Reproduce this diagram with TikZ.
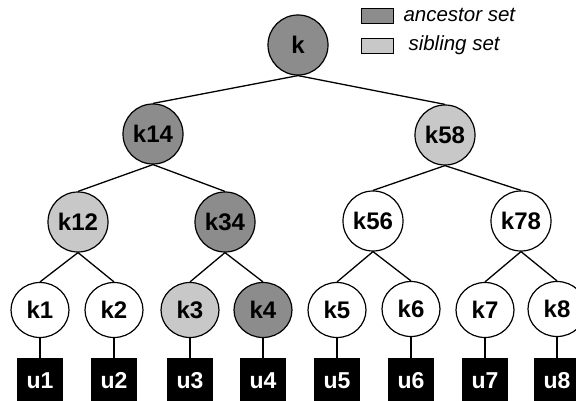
\documentclass[tikz,border=0pt]{standalone}
\usepackage{fontspec}
\setmainfont{Liberation Sans}
\usetikzlibrary{shapes.geometric}
\definecolor{ancestorgray}{RGB}{140,140,140}
\definecolor{siblinggray}{RGB}{200,200,200}
\tikzset{
  keynode/.style={circle, draw=black, line width=1.2pt, minimum size=60pt, inner sep=0pt,
    font=\fontsize{24}{24}\selectfont\bfseries},
  leafkey/.style={ellipse, draw=black, line width=1.2pt, minimum width=58pt, minimum height=55pt,
    inner sep=0pt, font=\fontsize{24}{24}\selectfont\bfseries},
  usernode/.style={rectangle, fill=black, minimum size=46pt, inner sep=0pt, text=white,
    font=\fontsize{23}{23}\selectfont\bfseries},
  ancestor/.style={fill=ancestorgray},
  sibling/.style={fill=siblinggray},
  edge/.style={line width=1.3pt},
  legendbox/.style={draw=black, line width=1pt, minimum width=32pt, minimum height=15pt, inner sep=0pt},
  legendtext/.style={anchor=west, font=\fontsize{20.5}{20.5}\selectfont\itshape}
}
\begin{document}
\begin{tikzpicture}[x=1pt, y=-1pt]
			%%%%% START %%%%%
			\useasboundingbox (0, 0) rectangle (576, 401);
			
			% legend
			\node[legendbox, ancestor] (legA) at (377, 16.5) {};
			\node[legendtext] (legAtext) at (400, 15) {ancestor set};
			\node[legendbox, sibling] (legS) at (377, 46) {};
			\node[legendtext] (legStext) at (405, 45) {sibling set};
			
			% key tree
			\node[keynode, ancestor] (k) at (298, 45) {k};
			
			\node[keynode, ancestor] (k14) at (153, 134) {k14};
			\node[keynode, sibling] (k58) at (445, 135) {k58};
			
			\node[keynode, sibling] (k12) at (78, 222) {k12};
			\node[keynode, ancestor] (k34) at (225, 222) {k34};
			\node[keynode] (k56) at (373, 221) {k56};
			\node[keynode] (k78) at (521, 221) {k78};
			
			\node[leafkey] (k1) at (40, 310) {k1};
			\node[leafkey] (k2) at (114, 310) {k2};
			\node[leafkey, sibling] (k3) at (190, 310) {k3};
			\node[leafkey, ancestor] (k4) at (263, 310) {k4};
			\node[leafkey] (k5) at (337, 310) {k5};
			\node[leafkey] (k6) at (411, 309) {k6};
			\node[leafkey] (k7) at (485, 310) {k7};
			\node[leafkey] (k8) at (557, 309) {k8};
			
			% users
			\foreach \i/\x in {1/40, 2/114, 3/190, 4/263, 5/337, 6/411, 7/485, 8/557}
			{
				\node[usernode] (u\i) at (\x, 381) {u\i};
				\draw[edge] (k\i.south) -- (u\i.north);
			}
			
			% edges
			\draw[edge] (k.south) -- (k14.north);
			\draw[edge] (k.south) -- (k58.north);
			\draw[edge] (k14.south) -- (k12.north);
			\draw[edge] (k14.south) -- (k34.north);
			\draw[edge] (k58.south) -- (k56.north);
			\draw[edge] (k58.south) -- (k78.north);
			\draw[edge] (k12.south) -- (k1.north);
			\draw[edge] (k12.south) -- (k2.north);
			\draw[edge] (k34.south) -- (k3.north);
			\draw[edge] (k34.south) -- (k4.north);
			\draw[edge] (k56.south) -- (k5.north);
			\draw[edge] (k56.south) -- (k6.north);
			\draw[edge] (k78.south) -- (k7.north);
			\draw[edge] (k78.south) -- (k8.north);
			
			%%%%% END %%%%%
\end{tikzpicture}
\end{document}
